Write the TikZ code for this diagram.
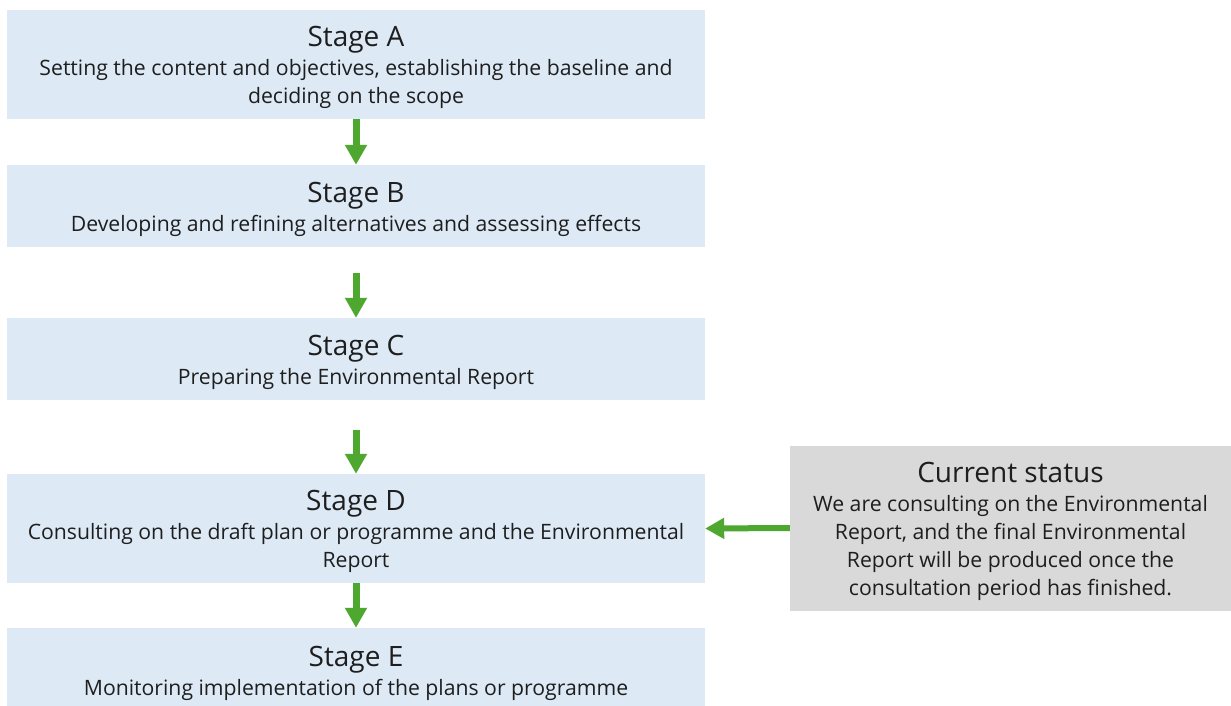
\documentclass[tikz,border=0pt]{standalone}
\usepackage{fontspec}
\setmainfont{Open Sans}
\usetikzlibrary{arrows.meta}
\definecolor{stageblue}{HTML}{DDEAF6}
\definecolor{statusgray}{HTML}{D9D9D9}
\definecolor{arrowgreen}{HTML}{4EA72E}
\definecolor{textdark}{HTML}{1E1E1E}
\newcommand{\ttl}[1]{{\fontsize{28}{32}\selectfont\rule{0pt}{26.5pt}#1}\\[1pt]}
\tikzset{
  stagebox/.style={fill=stageblue, draw=none, minimum width=698pt, align=center,
    text=textdark, font=\fontsize{21.2}{28}\selectfont, inner sep=0pt},
  statusbox/.style={fill=statusgray, draw=none, minimum width=441pt, minimum height=165pt,
    align=center, text=textdark, font=\fontsize{21.2}{28}\selectfont, inner sep=0pt},
  flowarrow/.style={draw=arrowgreen, line width=7pt,
    -{Triangle[width=21pt,length=20pt]}, shorten >=0pt}
}
\begin{document}
\begin{tikzpicture}[x=1pt,y=-1pt]
\useasboundingbox (0,0) rectangle (1231,706);
\fill[white] (0,0) rectangle (1231,706);
\node[stagebox, minimum height=109pt] (A) at (356,64.5)
  {\ttl{Stage A}Setting the content and objectives, establishing the baseline and\\deciding on the scope};
\node[stagebox, minimum height=82pt] (B) at (356,206)
  {\ttl{Stage B}Developing and refining alternatives and assessing effects};
\node[stagebox, minimum height=82pt] (C) at (356,359)
  {\ttl{Stage C}Preparing the Environmental Report};
\node[stagebox, minimum height=109pt] (D) at (356,528.5)
  {\ttl{Stage D}Consulting on the draft plan or programme and the Environmental\\Report};
\node[stagebox, minimum height=84pt] (E) at (356,670)
  {\ttl{Stage E}Monitoring implementation of the plans or programme};
\node[statusbox] (S) at (1010.5,528)
  {\ttl{Current status}We are consulting on the Environmental\\Report, and the final Environmental\\Report will be produced once the\\consultation period has finished.};
\coordinate (Bout) at ([yshift=-26pt]B.south);
\coordinate (Cout) at ([yshift=-30pt]C.south);
\draw[flowarrow] (A.south) -- (B.north);
\draw[flowarrow] (Bout) -- (C.north);
\draw[flowarrow] (Cout) -- (D.north);
\draw[flowarrow] (D.south) -- (E.north);
\draw[flowarrow, line width=6pt, -{Triangle[width=20pt,length=19pt]}] (S.west) -- (D.east);
\end{tikzpicture}
\end{document}
